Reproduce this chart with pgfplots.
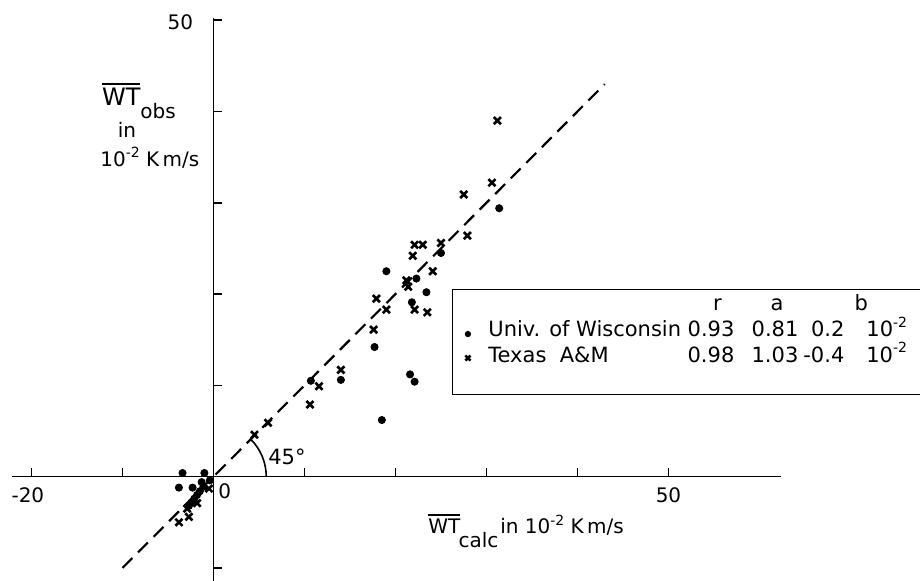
\documentclass[border=0pt]{standalone}
\usepackage{fontspec}
\setmainfont{DejaVu Sans}
\usepackage{pgfplots}
\pgfplotsset{compat=1.18}
\pgfplotsset{
  dotleg/.style={legend image code/.code={\draw[##1, mark size=1.3pt] plot coordinates {(7.5pt,1.2pt)}; \path (0pt,0pt) (17.5pt,0pt);}},
  crossleg/.style={legend image code/.code={\draw[##1, mark size=1.8pt] plot coordinates {(7.5pt,2pt)}; \path (0pt,0pt) (17.5pt,0pt);}},
}

\newcommand\ovl[1]{\vbox{\hrule height 1pt\kern1.5pt\hbox{#1}}}
\newcommand\sups[1]{\raisebox{0.8ex}{\fontsize{7}{8}\selectfont #1}}
\newcommand\rat[2]{\rlap{\hspace{#1}\llap{#2}}}
\newcommand\cat[2]{\rlap{\hspace{#1}\makebox[0pt][c]{#2}}}
\newcommand\lat[2]{\rlap{\hspace{#1}#2}}

\begin{document}
\begin{tikzpicture}
\begin{axis}[
  x=4.55pt, y=4.565pt,
  xmin=-22.1, xmax=62.4, ymin=-11.42, ymax=50.2,
  axis lines=middle,
  axis line style={-, line width=0.8pt},
  clip=false,
  xtick={-20,-10,10,20,30,40,50},
  xticklabels={\llap{-}20,,,,,,50},
  ytick={-10,10,20,30,40,50},
  yticklabels={,,,,,50},
  tick align=center,
  major tick length=4.5pt,
  tick style={line width=0.8pt, black},
  xtick style={yshift=2.25pt},
  ytick style={xshift=2.25pt},
  /pgf/number format/assume math mode=true,
  tick label style={font=\fontsize{10}{12}\selectfont, inner sep=0pt},
  xticklabel style={anchor=base, yshift=-10.8pt},
  yticklabel style={anchor=base east, xshift=-7.7pt, yshift=-4.5pt},
  legend style={at={(axis cs:26.2,20.56)}, anchor=north west, draw=black,
    line width=0.5pt, inner xsep=0pt, inner ysep=0pt, row sep=0pt,
    column sep=0pt, nodes={inner sep=0pt, text depth={}},
    cells={anchor=base west}, font=\fontsize{10.5}{12}\selectfont},
]
\coordinate (bbsw) at (axis cs:-23.46,-11.42);
\coordinate (bbne) at (axis cs:77.64,52.21);

\addlegendimage{empty legend}
\addlegendentry{\makebox[218pt][l]{\rule[-3pt]{0pt}{13.5pt}\cat{114.5pt}{r}\cat{144.3pt}{a}\cat{186.5pt}{b}}}

\addplot[forget plot, black, line width=1.1pt, dash pattern=on 7pt off 4pt]
  coordinates {(-10,-10) (43,43)};

\addplot[only marks, mark=*, mark size=1.8pt, black, dotleg]
  coordinates {
  (-3.4,0.4) (-1.0,0.4) (-3.8,-1.2) (-2.3,-1.2) (-1.3,-0.6) (-0.4,-0.4)
  (-1.1,-1.1) (-1.5,-1.6) (-1.8,-2.0) (-2.1,-2.4) (-2.4,-2.8) (-2.7,-3.2)
  (10.7,10.5) (14.0,10.6) (17.7,14.2) (18.5,6.2) (19.0,22.5) (21.6,11.2)
  (22.1,10.4) (21.8,19.1) (22.3,21.7) (23.4,20.2) (25.0,24.5) (31.4,29.4)
  };
\addlegendentry{\makebox[218pt][l]{\rule[-3pt]{0pt}{13pt}\lat{0pt}{Univ. of Wisconsin}\rat{123pt}{0.93}\rat{155pt}{0.81}\rat{178pt}{0.2}\lat{189pt}{10\sups{-2}}}}

\addplot[only marks, mark=x, mark size=2.5pt, black, mark options={solid, line width=1.3pt}, crossleg]
  coordinates {
  (-0.5,-1.3) (-1.8,-2.9) (-2.9,-3.5) (-2.7,-4.4) (-3.8,-5.0)
  (4.5,4.6) (6.0,5.9) (10.6,7.9) (11.6,9.9) (14.0,11.7) (17.6,16.1)
  (17.9,19.5) (19.0,18.3) (21.4,20.8) (21.2,21.5) (22.1,18.3) (23.5,18.0)
  (21.9,24.2) (22.1,25.4) (23.0,25.4) (24.1,22.5) (25.0,25.6) (27.9,26.4)
  (27.5,30.9) (30.6,32.2) (31.2,39.0)
  };
\addlegendentry{\makebox[218pt][l]{\rule[-16pt]{0pt}{23.5pt}\lat{0pt}{Texas\ \ A\&M}\rat{123pt}{0.98}\rat{155pt}{1.03}\rat{178pt}{-0.4}\lat{189pt}{10\sups{-2}}}}

% 45 degree arc and label
\draw[line width=0.8pt] (axis cs:5.8,0) arc[start angle=0, end angle=45, radius=26.4pt];
\node[anchor=base west, inner sep=0pt, font=\fontsize{10.5}{12}\selectfont] at (axis cs:5.99,1.28) {45°};
\node[anchor=base west, inner sep=0pt, font=\fontsize{10}{12}\selectfont] at (axis cs:0.5,-2.37) {0};

% y label
\node[anchor=base west, inner sep=0pt, font=\fontsize{12}{14}\selectfont] at (axis cs:-12.29,40.6) {\ovl{WT}};
\node[anchor=base west, inner sep=0pt, font=\fontsize{10}{12}\selectfont] at (axis cs:-8.08,39.27) {obs};
\node[anchor=base, inner sep=0pt, font=\fontsize{10}{12}\selectfont] at (axis cs:-9.51,37.2) {in};
\node[anchor=base west, inner sep=0pt, font=\fontsize{10}{12}\selectfont] at (axis cs:-12.47,33.95) {10\sups{-2} K\,m/s};

% x label
\node[anchor=base west, inner sep=0pt, font=\fontsize{10}{12}\selectfont] at (axis cs:23.57,-6.28) {\ovl{WT}};
\node[anchor=base west, inner sep=0pt, font=\fontsize{10}{12}\selectfont] at (axis cs:26.9,-7.81) {calc};
\node[anchor=base west, inner sep=0pt, font=\fontsize{10}{12}\selectfont] at (axis cs:31.48,-6.28) {in 10\sups{-2} K\,m/s};
\end{axis}
\pgfresetboundingbox
\path[use as bounding box] (bbsw) rectangle (bbne);
\end{tikzpicture}
\end{document}
